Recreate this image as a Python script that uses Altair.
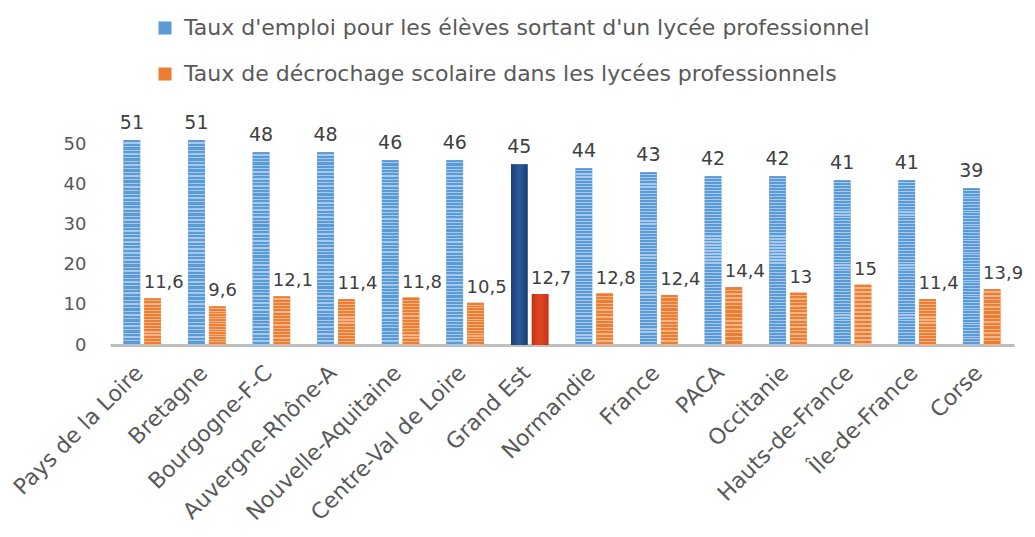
import altair as alt
import pandas as pd

regions = ["Pays de la Loire", "Bretagne", "Bourgogne-F-C", "Auvergne-Rhône-A",
           "Nouvelle-Aquitaine", "Centre-Val de Loire", "Grand Est", "Normandie",
           "France", "PACA", "Occitanie", "Hauts-de-France", "Île-de-France", "Corse"]
emploi = [51, 51, 48, 48, 46, 46, 45, 44, 43, 42, 42, 41, 41, 39]
decrochage = [11.6, 9.6, 12.1, 11.4, 11.8, 10.5, 12.7, 12.8, 12.4, 14.4, 13, 15, 11.4, 13.9]

S1 = "Taux d'emploi pour les élèves sortant d'un lycée professionnel"
S2 = "Taux de décrochage scolaire dans les lycées professionnels"
highlight = "Grand Est"


def fmt(v):
    return str(int(v)) if float(v).is_integer() else str(v).replace(".", ",")


rows = []
for r, a, b in zip(regions, emploi, decrochage):
    rows.append({"region": r, "series": S1, "value": a, "label": fmt(a), "hl": r == highlight})
    rows.append({"region": r, "series": S2, "value": b, "label": fmt(b), "hl": r == highlight})
df = pd.DataFrame(rows)


def stripes(dark, light, n):
    stops = []
    for i in range(n):
        a = i / n
        b = (i + 0.62) / n
        c = (i + 1) / n
        stops += [{"offset": a, "color": dark}, {"offset": b, "color": dark},
                  {"offset": b, "color": light}, {"offset": c, "color": light}]
    return {"gradient": "linear", "x1": 0, "y1": 0, "x2": 0, "y2": 1, "stops": stops}


def shade(edge, mid):
    return {"gradient": "linear", "x1": 0, "y1": 0, "x2": 1, "y2": 0,
            "stops": [{"offset": 0, "color": edge}, {"offset": 0.5, "color": mid},
                      {"offset": 1, "color": edge}]}


FONT = "DejaVu Sans"
x_enc = alt.X("region:N", sort=regions, title=None,
              scale=alt.Scale(paddingInner=0.42, paddingOuter=0.21),
              axis=alt.Axis(labelAngle=-45, labelAlign="right", labelBaseline="middle",
                            labelFontSize=22, labelColor="#595959", labelFont=FONT,
                            labelPadding=24, labelOffset=-3, ticks=False, domainColor="#BFBFBF",
                            domainWidth=3, labelLimit=300))
xo_enc = alt.XOffset("series:N", sort=[S1, S2], scale=alt.Scale(domain=[S1, S2], paddingInner=0.2))
y_enc = alt.Y("value:Q", title=None,
              scale=alt.Scale(domain=[0, 55], nice=False),
              axis=alt.Axis(values=[0, 10, 20, 30, 40, 50], grid=False, domain=False,
                            ticks=False, labelFontSize=18, labelColor="#595959",
                            labelFont=FONT, labelPadding=24))

base = alt.Chart(df)

bars = base.mark_bar().encode(
    x=x_enc, xOffset=xo_enc, y=y_enc,
    color=alt.Color("series:N", scale=alt.Scale(domain=[S1, S2], range=["#5B9BD5", "#ED7D31"]),
                    legend=alt.Legend(title=None, orient="none", legendX=44, legendY=-107,
                                      direction="vertical", labelFontSize=22,
                                      labelColor="#595959", labelFont=FONT,
                                      symbolType="square", symbolSize=170,
                                      rowPadding=24, labelOffset=8, labelLimit=900))
)

stripe_blue = base.mark_bar(color=stripes("#5B9BD5", "#A6C8EC", 56)).encode(
    x=x_enc, xOffset=xo_enc, y=y_enc
).transform_filter((alt.datum.series == S1) & (~alt.datum.hl))

stripe_orange = base.mark_bar(color=stripes("#ED7D31", "#F6B48A", 15)).encode(
    x=x_enc, xOffset=xo_enc, y=y_enc
).transform_filter((alt.datum.series == S2) & (~alt.datum.hl))

hl_blue = base.mark_bar(color=shade("#1A3F72", "#2A5C9C")).encode(
    x=x_enc, xOffset=xo_enc, y=y_enc
).transform_filter((alt.datum.series == S1) & (alt.datum.hl))

hl_orange = base.mark_bar(color=shade("#C9311A", "#DE4A1E")).encode(
    x=x_enc, xOffset=xo_enc, y=y_enc
).transform_filter((alt.datum.series == S2) & (alt.datum.hl))

lbl1 = base.mark_text(dy=-17, fontSize=19, color="#404040", font=FONT, align="center").encode(
    x=x_enc, xOffset=xo_enc, y=y_enc, text="label:N"
).transform_filter(alt.datum.series == S1)

lbl2 = base.mark_text(dy=-15, dx=-9, fontSize=18, color="#404040", font=FONT, align="left").encode(
    x=x_enc, xOffset=xo_enc, y=y_enc, text="label:N"
).transform_filter(alt.datum.series == S2)

chart = alt.layer(bars, stripe_blue, stripe_orange, hl_blue, hl_orange, lbl1, lbl2).properties(
    width=904, height=221,
    autosize=alt.AutoSizeParams(type="none"),
    padding={"left": 102, "top": 116, "right": 13, "bottom": 183},
).configure_view(stroke=None)

chart.save("out.html", embed_options={"renderer": "svg", "actions": False})
